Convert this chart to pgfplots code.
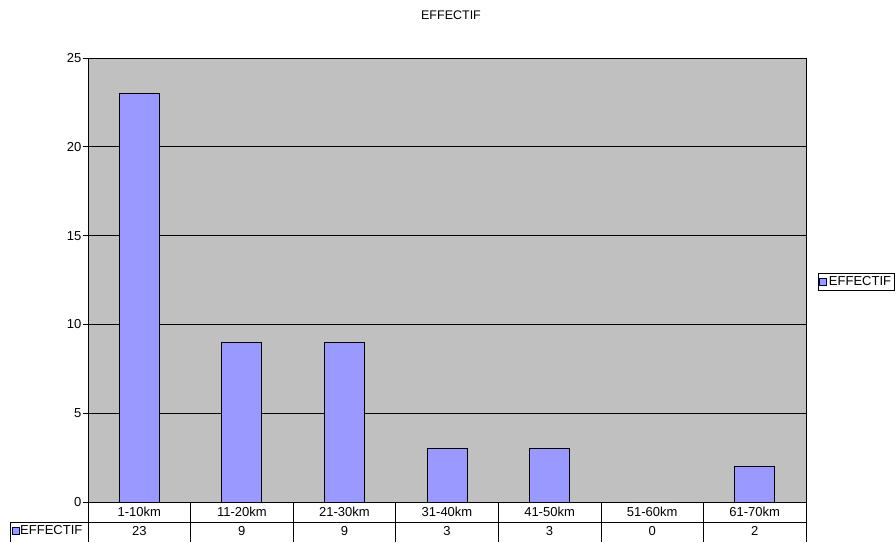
\documentclass[border=0pt]{standalone}
\usepackage{fontspec}
\setmainfont{Liberation Sans}
\usepackage{pgfplots}
\pgfplotsset{compat=1.18}
\definecolor{barblue}{RGB}{153,153,255}
\definecolor{plotgray}{RGB}{192,192,192}
\begin{document}
\fontsize{13}{15}\selectfont
\begin{tikzpicture}[x=1pt,y=1pt]
\path[use as bounding box] (0,0) rectangle (896,542);
\node[font=\fontsize{12.5}{14}\selectfont] at (451,527) {EFFECTIF};
\begin{axis}[
  at={(88pt,40pt)}, anchor=south west,
  width=718pt, height=444pt, scale only axis,
  xmin=-0.5, xmax=6.5, ymin=0, ymax=25,
  axis background/.style={fill=plotgray},
  axis line style={draw=black, line width=0.8pt},
  ytick={0,5,...,25}, ymajorgrids,
  grid style={black, line width=0.8pt},
  ytick pos=left, tick align=outside, major tick length=5pt,
  ytick style={black, line width=0.8pt},
  xtick={0,...,6},
  xticklabels={1-10km,11-20km,21-30km,31-40km,41-50km,51-60km,61-70km},
  extra x ticks={0,...,6},
  extra x tick labels={23,9,9,3,3,0,2},
  extra x tick style={xticklabel style={yshift=-19pt}},
  xtick style={draw=none},
  xticklabel style={anchor=center, yshift=-5pt, inner sep=0pt},
  yticklabel style={inner sep=1.5pt},
  /pgf/number format/assume math mode=true,
  ticklabel style={font=\fontsize{13}{15}\selectfont},
  legend style={at={(rel axis cs:1.0167,0.4955)}, anchor=west, draw=black,
    font=\fontsize{13}{15}\selectfont, inner sep=1pt, row sep=0pt,
    /tikz/every even column/.append style={column sep=1pt}},
  legend image code/.code={\draw[fill=barblue, draw=black!70!blue] (0pt,-3.5pt) rectangle (7pt,3.5pt);},
]
\addplot[ybar, fill=barblue, draw=black, line width=0.8pt, bar width=0.39]
  coordinates {(0,23) (1,9) (2,9) (3,3) (4,3) (5,0) (6,2)};
\addlegendentry{EFFECTIF}
\end{axis}
% data table grid
\draw[black, line width=0.6pt] (10,20) -- (806,20);
\draw[black, line width=0.6pt] (10,20) -- (10,0);
\foreach \k in {0,...,7} {
  \draw[black, line width=0.6pt] ({88+\k*102.571},40) -- ({88+\k*102.571},0);
}
\draw[fill=barblue, draw=black!70!blue] (12.5,8) rectangle (19.5,15);
\node[anchor=west, inner sep=0pt] at (20,11.5) {EFFECTIF};
\end{tikzpicture}
\end{document}
